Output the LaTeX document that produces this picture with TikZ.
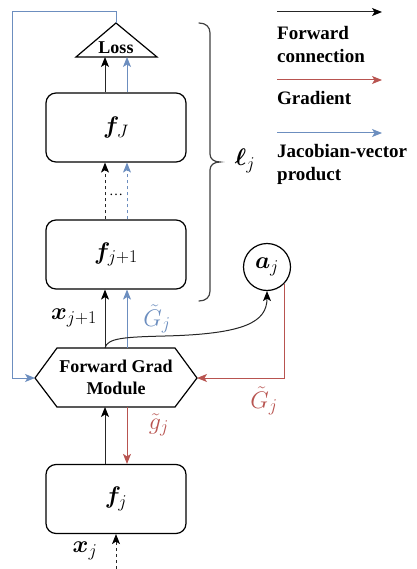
\RequirePackage{fix-cm}
\documentclass[tikz,border=0pt]{standalone}
\usepackage{bm}
\usepackage{fontspec}
\setmainfont{Liberation Serif}
\DeclareMathSizes{24}{24}{18}{13}
\usetikzlibrary{arrows.meta,calc}
\definecolor{myred}{HTML}{B85450}
\definecolor{myblue}{HTML}{6C8EBF}
\begin{document}
\begin{tikzpicture}[x=1pt,y=-1pt,
  stepbox/.style={draw, rounded corners=10pt, minimum width=140pt, minimum height=69pt, line width=1.2pt, inner sep=0pt, font=\fontsize{24}{28}\selectfont},
  tip/.style={-{Stealth[length=10pt,width=8pt,inset=2.5pt]}},
  fwd/.style={tip, line width=1pt, draw=black!85, -{Stealth[length=10pt,width=8pt,inset=2.5pt,color=black]}},
  grad/.style={tip, line width=1pt, draw=myred, -{Stealth[length=10pt,width=8pt,inset=2.5pt,color=myred]}},
  jvp/.style={tip, line width=1pt, draw=myblue, -{Stealth[length=10pt,width=8pt,inset=2.5pt,color=myblue]}},
  txt/.style={font=\fontsize{18}{22}\selectfont\bfseries, align=center, inner sep=0pt},
  legtxt/.style={font=\fontsize{19}{23.5}\selectfont\bfseries, align=left, inner sep=0pt},
  mlbl/.style={font=\fontsize{24}{28}\selectfont, inner sep=0pt}
]
\useasboundingbox (0,0) rectangle (416,569);

% boxes
\node[stepbox] (fJ) at (116,127.5) {$\bm{f}_J$};
\node[stepbox] (fj1) at (116,254.5) {$\bm{f}_{j+1}$};
\node[stepbox] (fj) at (116,499) {$\bm{f}_j$};

% loss triangle
\coordinate (lossA) at (116,23);
\coordinate (lossL) at (76,57);
\coordinate (lossR) at (157,57);
\draw[line width=1.2pt] (lossL) -- (lossA) -- (lossR) -- cycle;
\node[txt] (loss) at (116,47.5) {Loss};

% hexagon
\coordinate (h1) at (35,378);
\coordinate (h2) at (57,348);
\coordinate (h3) at (175,348);
\coordinate (h4) at (197,378);
\coordinate (h5) at (175,407);
\coordinate (h6) at (57,407);
\draw[line width=1.2pt] (h1) -- (h2) -- (h3) -- (h4) -- (h5) -- (h6) -- cycle;
\node[txt] (hex) at (116,377) {Forward Grad\\Module};

% circle
\node[draw, circle, line width=1.2pt, minimum size=47pt, inner sep=0pt, font=\fontsize{24}{28}\selectfont] (aj) at (267,267) {$\bm{a}_j$};

% connectors f_J -> loss
\draw[fwd] ([xshift=-11pt]fJ.north) -- ([xshift=-11pt]fJ.north |- lossL);
\draw[jvp] ([xshift=11pt]fJ.north) -- ([xshift=11pt]fJ.north |- lossL);

% dashed between f_{j+1} and f_J
\draw[fwd, dashed, dash pattern=on 3pt off 3pt] ([xshift=-11pt]fj1.north) -- ([xshift=-11pt]fJ.south);
\draw[jvp, dashed, dash pattern=on 3pt off 3pt] ([xshift=11pt]fj1.north) -- ([xshift=11pt]fJ.south);
\node[font=\fontsize{14}{16}\selectfont, inner sep=0pt] (dots) at (116,195) {\dots};

% hexagon -> f_{j+1}
\coordinate (hexoutK) at ([xshift=-11pt]fj1.south |- h2);
\coordinate (hexoutB) at ([xshift=11pt]fj1.south |- h2);
\draw[fwd] (hexoutK) -- ([xshift=-11pt]fj1.south);
\draw[jvp] (hexoutB) -- ([xshift=11pt]fj1.south);

% f_j -> hexagon, gradient down
\draw[fwd] ([xshift=-11pt]fj.north) -- ([xshift=-11pt]fj.north |- h6);
\draw[grad] ([xshift=11pt]fj.north |- h6) -- ([xshift=11pt]fj.north);

% input
\coordinate (xin) at (116,569);
\draw[fwd, dashed, dash pattern=on 3pt off 3pt] (xin) -- (fj.south);

% curve to a_j
\draw[fwd] (hexoutK) .. controls (107,338) and (125,337) .. (165,336) .. controls (245,334) and (267,322) .. (aj.south);

% red back to hexagon
\draw[grad] (aj.-45) |- (h4);

% blue loop from loss
\coordinate (bl1) at (12,12);
\draw[line width=1pt, draw=myblue] (lossA) |- (bl1);
\draw[jvp] (bl1) |- (h1);

% brace
\draw[line width=1.2pt, draw=black!75, line cap=round]
  (199,23) .. controls (206,23) and (210,27) .. (210,33) -- (210,154)
  .. controls (210,159) and (214,162) .. (220,162)
  .. controls (214,162) and (210,165) .. (210,170) -- (210,291)
  .. controls (210,297) and (206,301) .. (199,301);

% labels
\node[mlbl] (lj) at (245,161) {$\bm{\ell}_j$};
\node[mlbl] (lxj1) at (74,318) {$\bm{x}_{j+1}$};
\node[mlbl, text=myblue] (lGb) at (157,319) {$\tilde{G}_j$};
\node[mlbl, text=myred] (lGr) at (264,401) {$\tilde{G}_j$};
\node[mlbl, text=myred] (lg) at (159,425) {$\tilde{g}_j$};
\node[mlbl] (lxj) at (85,551) {$\bm{x}_j$};

% legend
\coordinate (lg1a) at (277,12); \coordinate (lg1b) at (382,12);
\coordinate (lg2a) at (277,80); \coordinate (lg2b) at (382,80);
\coordinate (lg3a) at (277,133); \coordinate (lg3b) at (382,133);
\draw[fwd] (lg1a) -- (lg1b);
\draw[grad] (lg2a) -- (lg2b);
\draw[jvp] (lg3a) -- (lg3b);
\node[legtxt, anchor=north west] (leg1) at (277,26) {Forward\\connection};
\node[legtxt, anchor=north west] (leg2) at (277,91) {Gradient};
\node[legtxt, anchor=north west] (leg3) at (277,144) {Jacobian-vector\\product};
\end{tikzpicture}
\end{document}
